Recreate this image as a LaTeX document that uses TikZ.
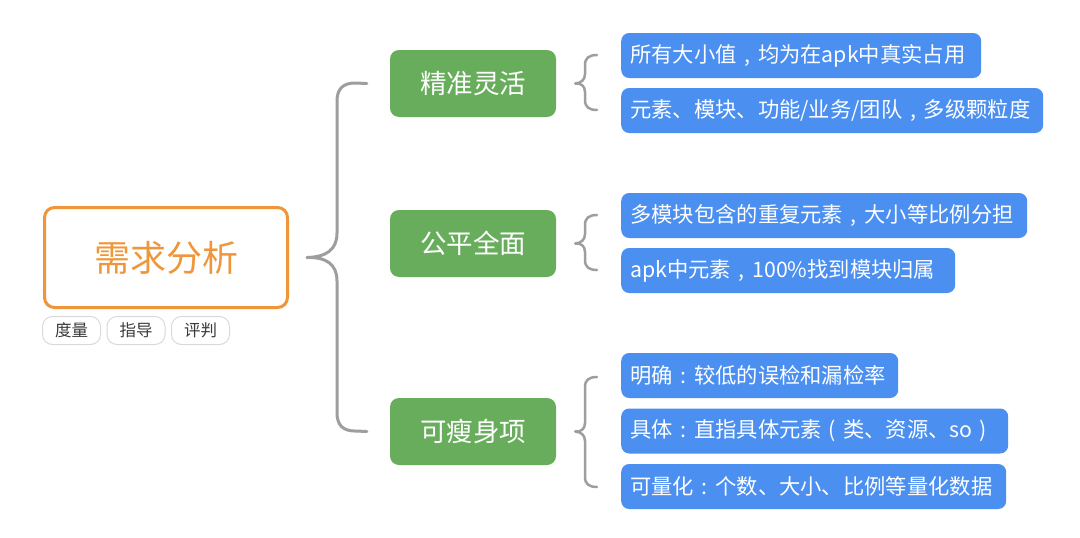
\documentclass[tikz,border=0pt]{standalone}
\usepackage{fontspec}
\setmainfont{Noto Sans CJK SC}
\newfontfamily\cjk{Noto Sans CJK SC}
\newcommand{\fwc}{\makebox[1em]{,}}
\newcommand{\fwcolon}{\makebox[1em]{:}}
\newcommand{\fwlp}{\makebox[1em]{(}}
\newcommand{\fwrp}{\makebox[1em]{)}}
\definecolor{orangeM}{HTML}{F0963A}
\definecolor{greenB}{HTML}{68AD5C}
\definecolor{blueB}{HTML}{4B8FF1}
\definecolor{grayL}{HTML}{9E9E9E}
\definecolor{tagB}{HTML}{DADADA}
\definecolor{tagT}{HTML}{3A3A3A}
\begin{document}
\begin{tikzpicture}[x=1pt,y=-1pt,
  mainbox/.style={draw=orangeM,line width=3pt,rounded corners=10pt,fill=white,
    minimum width=243pt,minimum height=100pt,text=orangeM,font=\cjk\fontsize{36}{40}\selectfont,inner sep=0pt},
  tagbox/.style={draw=tagB,line width=1pt,rounded corners=10pt,fill=white,
    minimum width=58pt,minimum height=28pt,text=tagT,font=\cjk\fontsize{16.5}{18}\selectfont,inner sep=0pt},
  greenbox/.style={fill=greenB,rounded corners=9pt,minimum width=166pt,minimum height=67pt,
    text=white,font=\cjk\fontsize{26.5}{30}\selectfont,inner sep=0pt},
  bluebox/.style={fill=blueB,rounded corners=8pt,minimum height=45pt,anchor=west,
    text=white,font=\cjk\fontsize{21.3}{24}\selectfont,inner xsep=9pt,inner ysep=0pt,align=left},
  brace/.style={draw=grayL,line width=3pt,line cap=round,line join=round},
  sbrace/.style={draw=grayL,line width=2.5pt,line cap=round,line join=round}
]
\useasboundingbox (0,0) rectangle (1080,538);
\fill[white] (0,0) rectangle (1080,538);

% main
\node[mainbox] (main) at (166,257.5) {需求分析};
\node[tagbox] (t1) at (71.5,330.5) {度量};
\node[tagbox] (t2) at (136,330.5) {指导};
\node[tagbox] (t3) at (200.5,330.5) {评判};

% green
\node[greenbox] (g1) at (473,83.5) {精准灵活};
\node[greenbox] (g2) at (473,243.5) {公平全面};
\node[greenbox] (g3) at (473,431.5) {可瘦身项};

% blue
\node[bluebox,text width=342pt] (b1) at (621,55.5) {所有大小值\fwc 均为在apk中真实占用};
\node[bluebox,text width=404pt] (b2) at (621,110.5) {元素、模块、功能/业务/团队\fwc 多级颗粒度};
\node[bluebox,text width=388pt] (b3) at (621,215.5) {多模块包含的重复元素\fwc 大小等比例分担};
\node[bluebox,text width=316pt] (b4) at (621,270.5) {apk中元素\fwc 100\%找到模块归属};
\node[bluebox,text width=259pt] (b5) at (621,375.5) {明确\fwcolon 较低的误检和漏检率};
\node[bluebox,text width=369pt] (b6) at (621,431) {具体\fwcolon 直指具体元素\fwlp 类、资源、so\fwrp};
\node[bluebox,text width=367pt] (b7) at (621,486.5) {可量化\fwcolon 个数、大小、比例等量化数据};

% big brace
\coordinate (B0) at ([xshift=18pt]main.east);
\coordinate (Bt) at ([xshift=-23pt]g1.west);
\coordinate (Bb) at ([xshift=-23pt]g3.west);
\draw[brace] (Bt) -- (355,83) .. controls (343,83) and (337,89) .. (337,101)
  -- (337,233) .. controls (337,250) and (326,257) .. (B0)
  .. controls (326,257) and (337,264) .. (337,281)
  -- (337,413) .. controls (337,425) and (343,431) .. (355,431) -- (Bb);

% small braces
\coordinate (s1) at ([xshift=19pt]g1.east);
\coordinate (s2) at ([xshift=19pt]g2.east);
\coordinate (s3) at ([xshift=19pt]g3.east);
\draw[sbrace] (597,55) .. controls (589,55) and (585,58) .. (585,65) -- (585,74)
  .. controls (585,80) and (581,83) .. (s1) .. controls (581,83) and (585,86) .. (585,92)
  -- (585,100) .. controls (585,107) and (589,110) .. (597,110);
\draw[sbrace] (597,215) .. controls (589,215) and (585,218) .. (585,225) -- (585,234)
  .. controls (585,240) and (581,243) .. (s2) .. controls (581,243) and (585,246) .. (585,252)
  -- (585,260) .. controls (585,267) and (589,270) .. (597,270);
\draw[sbrace] (597,377) .. controls (589,377) and (585,380) .. (585,387) -- (585,423)
  .. controls (585,429) and (581,432) .. (s3) .. controls (581,432) and (585,435) .. (585,441)
  -- (585,477) .. controls (585,484) and (589,487) .. (597,487);
\end{tikzpicture}
\end{document}
